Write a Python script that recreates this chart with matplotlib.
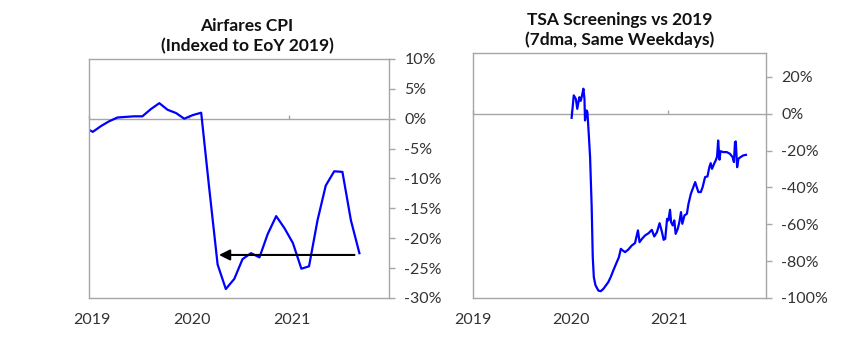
import numpy as np
import pandas as pd
import matplotlib
matplotlib.use("Agg")
import matplotlib.pyplot as plt
import matplotlib.dates as mdates
from matplotlib.transforms import ScaledTranslation

plt.rcParams['font.family'] = ['Lato', 'DejaVu Sans']

# --- Airfares CPI, monthly, % vs end of 2019 ---
cpi_months = ['2018-12', '2019-01', '2019-02', '2019-03', '2019-04', '2019-05', '2019-06',
              '2019-07', '2019-08', '2019-09', '2019-10', '2019-11', '2019-12',
              '2020-01', '2020-02', '2020-03', '2020-04', '2020-05', '2020-06', '2020-07',
              '2020-08', '2020-09', '2020-10', '2020-11', '2020-12',
              '2021-01', '2021-02', '2021-03', '2021-04', '2021-05', '2021-06', '2021-07',
              '2021-08', '2021-09']
cpi_vals = [-1.45, -2.2, -1.2, -0.45, 0.2, 0.3, 0.4,
            0.4, 1.6, 2.6, 1.5, 0.95, 0.0,
            0.6, 1.0, -11.5, -24.4, -28.5, -26.8, -23.5,
            -22.5, -23.2, -19.3, -16.3, -18.3,
            -20.8, -25.1, -24.7, -17.0, -11.2, -8.8, -8.9,
            -17.0, -22.5]
arrow_from = '2021-08-28'
arrow_to = '2020-04-20'
arrow_level = -22.8

# --- TSA screenings vs 2019, 7dma, % ---
tsa_dates = ['2020-01-05', '2020-01-13', '2020-01-21', '2020-01-26', '2020-02-03', '2020-02-08',
             '2020-02-13', '2020-02-18', '2020-02-22', '2020-02-24', '2020-03-01', '2020-03-04',
             '2020-03-09', '2020-03-14', '2020-03-20', '2020-03-24', '2020-03-28', '2020-04-03',
             '2020-04-14', '2020-04-23', '2020-05-03', '2020-05-21', '2020-05-30', '2020-06-09',
             '2020-06-22', '2020-06-30', '2020-07-07', '2020-07-14', '2020-07-23', '2020-08-04',
             '2020-08-17', '2020-08-29', '2020-09-09', '2020-09-15', '2020-09-24', '2020-10-06',
             '2020-10-19', '2020-10-31', '2020-11-09', '2020-11-19', '2020-11-29', '2020-12-08',
             '2020-12-14', '2020-12-20', '2020-12-27', '2021-01-01', '2021-01-07', '2021-01-11',
             '2021-01-17', '2021-01-23', '2021-01-28', '2021-02-05', '2021-02-11', '2021-02-17',
             '2021-02-22', '2021-03-02', '2021-03-11', '2021-03-17', '2021-03-26', '2021-04-02',
             '2021-04-11', '2021-04-17', '2021-04-23', '2021-05-02', '2021-05-09', '2021-05-18',
             '2021-05-27', '2021-06-03', '2021-06-08', '2021-06-13', '2021-06-21', '2021-06-27',
             '2021-07-02', '2021-07-06', '2021-07-11', '2021-07-15', '2021-07-25', '2021-08-07',
             '2021-08-19', '2021-08-29', '2021-09-03', '2021-09-07', '2021-09-10', '2021-09-15',
             '2021-09-20', '2021-09-28', '2021-10-08', '2021-10-18']
tsa_vals = [-2.2, 10.0, 8.0, 2.7, 9.0, 7.0,
            10.0, 13.6, 8.0, -3.6, 1.8, 0.9,
            -10.9, -23.5, -50.7, -77.8, -88.7, -93.0,
            -96.0, -96.3, -95.0, -91.4, -88.7, -85.0,
            -80.5, -77.8, -73.3, -74.2, -75.1, -73.7,
            -71.5, -70.2, -63.3, -69.7, -67.9, -66.0,
            -64.8, -63.0, -66.6, -64.3, -59.4, -64.3,
            -68.4, -67.9, -57.0, -57.9, -52.1, -58.8,
            -60.6, -57.9, -65.2, -62.4, -58.8, -53.4,
            -59.7, -55.2, -54.3, -48.9, -43.4, -40.7,
            -37.1, -39.8, -42.5, -42.5, -39.8, -34.4,
            -34.0, -29.0, -26.8, -29.9, -27.1, -25.3,
            -23.2, -14.5, -24.9, -20.3, -20.8, -20.8,
            -21.7, -23.5, -26.2, -15.4, -15.0, -29.0,
            -24.4, -23.5, -22.6, -22.3]

years = ['2019', '2020', '2021']

grey = '#a6a6a6'
blue = '#0000ff'
txt = '#333333'

cpi_x = pd.to_datetime(cpi_months) + pd.Timedelta(days=14)
tsa_x = pd.to_datetime(tsa_dates)
year_ticks = pd.to_datetime(years)

fig = plt.figure(figsize=(8.68, 3.5), dpi=100)
ax1 = fig.add_axes([0.1025, 0.1486, 0.3456, 0.683])
ax2 = fig.add_axes([0.5449, 0.1486, 0.3376, 0.700])


def style(ax, ylo, yhi, yticks):
    ax.set_xlim(pd.Timestamp('2019-01-01'), pd.Timestamp('2022-01-01'))
    ax.set_ylim(ylo, yhi)
    for s in ax.spines.values():
        s.set_color(grey)
        s.set_linewidth(1.0)
    ax.yaxis.tick_right()
    ax.set_yticks(yticks)
    ax.set_yticklabels([f'{v:.0f}%' for v in yticks])
    ax.tick_params(axis='y', direction='out', length=4, width=1, color=grey,
                   labelsize=11.5, labelcolor=txt, pad=7)
    ax.set_xticks(year_ticks)
    ax.xaxis.set_major_formatter(mdates.DateFormatter('%Y'))
    ax.tick_params(axis='x', length=0, labelsize=11.5, labelcolor=txt, pad=11)
    # zero line carrying the year ticks
    ax.axhline(0, color=grey, lw=1.0, zorder=1)
    zero = ax.secondary_xaxis((0 - ylo) / (yhi - ylo))
    for s in zero.spines.values():
        s.set_visible(False)
    zero.set_xticks(year_ticks)
    zero.set_xticklabels([])
    zero.tick_params(axis='x', direction='out', length=3, width=1, color=grey)


style(ax1, -30, 10, np.arange(-30, 11, 5))
ax1.plot(cpi_x, cpi_vals, color=blue, lw=1.6)
ax1.annotate('', xy=(pd.Timestamp(arrow_to), arrow_level),
             xytext=(pd.Timestamp(arrow_from), arrow_level),
             arrowprops=dict(arrowstyle='-|>', color='black', lw=1.5,
                             mutation_scale=16, shrinkA=0, shrinkB=0))
# year labels on the left panel sit a little right of their ticks
shift = ScaledTranslation(3 / 100, 0, fig.dpi_scale_trans)
fig.canvas.draw()
for lab in ax1.get_xticklabels():
    lab.set_transform(lab.get_transform() + shift)

style(ax2, -100, 33, np.arange(-100, 21, 20))
ax2.plot(tsa_x, tsa_vals, color=blue, lw=1.6)

fig.text(247 / 868, 1 - 36 / 350, 'Airfares CPI\n(Indexed to EoY 2019)', ha='center',
         va='center', fontsize=12.5, fontweight='bold', color='#111111', linespacing=1.3)
fig.text(620 / 868, 1 - 30 / 350, 'TSA Screenings vs 2019\n(7dma, Same Weekdays)', ha='center',
         va='center', fontsize=12.5, fontweight='bold', color='#111111', linespacing=1.3)

fig.savefig('out.png', dpi=100)
